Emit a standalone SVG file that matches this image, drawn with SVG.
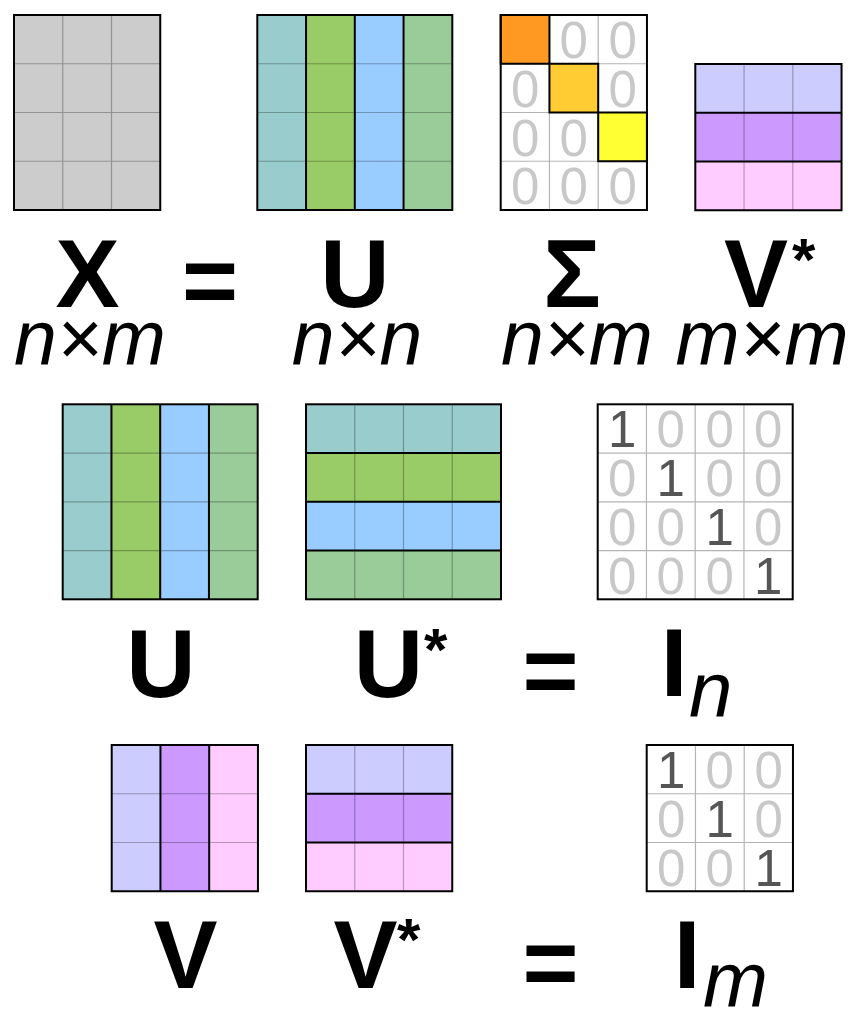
<svg xmlns="http://www.w3.org/2000/svg" width="864" height="1014" viewBox="0 0 864 1014">
<style>
.bg{fill:#fff}
.thin{fill:none;stroke:#000;stroke-opacity:0.28;stroke-width:1.2}
.thinw{fill:none;stroke:#b4b4b4;stroke-width:1.2}
.sep{fill:none;stroke:#000;stroke-width:2}
.border{fill:none;stroke:#000;stroke-width:2}
.diag{stroke:#000;stroke-width:2}
.z{font-family:"Liberation Sans",Arial,sans-serif;font-size:51px;fill:#c8c8c8;text-anchor:middle}
.o{fill:#555555}
.lb{font-family:"Liberation Sans",Arial,sans-serif;font-weight:bold;font-size:96px;fill:#000;text-anchor:middle}
.ast{font-family:"Liberation Sans",Arial,sans-serif;font-weight:bold;font-size:60px;fill:#000}
.it{font-family:"Liberation Sans",Arial,sans-serif;font-style:italic;font-size:77px;fill:#000;text-anchor:middle}
.its{font-family:"Liberation Sans",Arial,sans-serif;font-style:italic;font-size:78px;fill:#000}
</style>
<rect class="bg" x="0" y="0" width="864" height="1014"/>

<!-- Top row -->
<g id="matrix-X">
<rect x="14" y="15" width="146.25" height="195" fill="#cccccc"/>
<path class="thin" d="M62.75 15V210M111.5 15V210M14 63.75H160.25M14 112.5H160.25M14 161.25H160.25"/>
<rect class="border" x="14" y="15" width="146.25" height="195"/>
</g>

<g id="matrix-U-top">
<rect x="257.3" y="15" width="48.75" height="195" fill="#99cccc"/>
<rect x="306.05" y="15" width="48.75" height="195" fill="#99cc66"/>
<rect x="354.8" y="15" width="48.75" height="195" fill="#99ccff"/>
<rect x="403.55" y="15" width="48.75" height="195" fill="#99cc99"/>
<path class="thin" d="M257.3 63.75H452.3M257.3 112.5H452.3M257.3 161.25H452.3"/>
<path class="sep" d="M306.05 15V210M354.8 15V210M403.55 15V210"/>
<rect class="border" x="257.3" y="15" width="195" height="195"/>
</g>

<g id="matrix-Sigma">
<rect x="500.7" y="15" width="146.25" height="195" fill="#ffffff"/>
<path class="thinw" d="M549.45 15V210M598.2 15V210M500.7 63.75H646.95M500.7 112.5H646.95M500.7 161.25H646.95"/>
<rect class="diag" x="500.7" y="15" width="48.75" height="48.75" fill="#ff9922"/>
<rect class="diag" x="549.45" y="63.75" width="48.75" height="48.75" fill="#ffcc33"/>
<rect class="diag" x="598.2" y="112.5" width="48.75" height="48.75" fill="#ffff33"/>
<text class="z" x="573.8" y="58">0</text><text class="z" x="622.6" y="58">0</text>
<text class="z" x="525.1" y="106.75">0</text><text class="z" x="622.6" y="106.75">0</text>
<text class="z" x="525.1" y="155.5">0</text><text class="z" x="573.8" y="155.5">0</text>
<text class="z" x="525.1" y="204.25">0</text><text class="z" x="573.8" y="204.25">0</text><text class="z" x="622.6" y="204.25">0</text>
<rect class="border" x="500.7" y="15" width="146.25" height="195"/>
</g>

<g id="matrix-Vstar-top">
<rect x="695.3" y="64" width="146.25" height="48.75" fill="#ccccff"/>
<rect x="695.3" y="112.75" width="146.25" height="48.75" fill="#cc99ff"/>
<rect x="695.3" y="161.5" width="146.25" height="48.75" fill="#ffccff"/>
<path class="thin" d="M744.05 64V210.25M792.8 64V210.25"/>
<path class="sep" d="M695.3 112.75H841.55M695.3 161.5H841.55"/>
<rect class="border" x="695.3" y="64" width="146.25" height="146.25"/>
</g>

<g id="labels-top">
<text class="lb" x="87.5" y="307">X</text>
<text class="lb" x="210" y="314">=</text>
<text class="lb" x="355" y="307">U</text>
<text class="lb" x="572" y="307">Σ</text>
<text class="lb" x="756" y="307">V</text>
<text class="ast" x="792" y="280">*</text>
<text class="it" x="90" y="365">n×m</text>
<text class="it" x="357" y="365">n×n</text>
<text class="it" x="577" y="365">n×m</text>
<text class="it" x="762" y="365">m×m</text>
</g>

<!-- Middle row -->
<g id="matrix-U-mid">
<rect x="62.7" y="404.3" width="48.75" height="195" fill="#99cccc"/>
<rect x="111.45" y="404.3" width="48.75" height="195" fill="#99cc66"/>
<rect x="160.2" y="404.3" width="48.75" height="195" fill="#99ccff"/>
<rect x="208.95" y="404.3" width="48.75" height="195" fill="#99cc99"/>
<path class="thin" d="M62.7 453.05H257.7M62.7 501.8H257.7M62.7 550.55H257.7"/>
<path class="sep" d="M111.45 404.3V599.3M160.2 404.3V599.3M208.95 404.3V599.3"/>
<rect class="border" x="62.7" y="404.3" width="195" height="195"/>
</g>

<g id="matrix-Ustar-mid">
<rect x="306" y="404.3" width="195" height="48.75" fill="#99cccc"/>
<rect x="306" y="453.05" width="195" height="48.75" fill="#99cc66"/>
<rect x="306" y="501.8" width="195" height="48.75" fill="#99ccff"/>
<rect x="306" y="550.55" width="195" height="48.75" fill="#99cc99"/>
<path class="thin" d="M354.75 404.3V599.3M403.5 404.3V599.3M452.25 404.3V599.3"/>
<path class="sep" d="M306 453.05H501M306 501.8H501M306 550.55H501"/>
<rect class="border" x="306" y="404.3" width="195" height="195"/>
</g>

<g id="matrix-In">
<rect x="597.7" y="404.3" width="195" height="195" fill="#ffffff"/>
<path class="thinw" d="M646.45 404.3V599.3M695.2 404.3V599.3M743.95 404.3V599.3M597.7 453.05H792.7M597.7 501.8H792.7M597.7 550.55H792.7"/>
<text class="z o" x="622.1" y="447.3">1</text><text class="z" x="670.8" y="447.3">0</text><text class="z" x="719.6" y="447.3">0</text><text class="z" x="768.3" y="447.3">0</text>
<text class="z" x="622.1" y="496.05">0</text><text class="z o" x="670.8" y="496.05">1</text><text class="z" x="719.6" y="496.05">0</text><text class="z" x="768.3" y="496.05">0</text>
<text class="z" x="622.1" y="544.8">0</text><text class="z" x="670.8" y="544.8">0</text><text class="z o" x="719.6" y="544.8">1</text><text class="z" x="768.3" y="544.8">0</text>
<text class="z" x="622.1" y="593.55">0</text><text class="z" x="670.8" y="593.55">0</text><text class="z" x="719.6" y="593.55">0</text><text class="z o" x="768.3" y="593.55">1</text>
<rect class="border" x="597.7" y="404.3" width="195" height="195"/>
</g>

<g id="labels-mid">
<text class="lb" x="161" y="697">U</text>
<text class="lb" x="388.5" y="697">U</text>
<text class="ast" x="424" y="670">*</text>
<text class="lb" x="550.5" y="704">=</text>
<text class="lb" x="674" y="696">I</text>
<text class="its" x="689" y="717">n</text>
</g>

<!-- Bottom row -->
<g id="matrix-V-bot">
<rect x="111.7" y="745" width="48.75" height="146.25" fill="#ccccff"/>
<rect x="160.45" y="745" width="48.75" height="146.25" fill="#cc99ff"/>
<rect x="209.2" y="745" width="48.75" height="146.25" fill="#ffccff"/>
<path class="thin" d="M111.7 793.75H257.95M111.7 842.5H257.95"/>
<path class="sep" d="M160.45 745V891.25M209.2 745V891.25"/>
<rect class="border" x="111.7" y="745" width="146.25" height="146.25"/>
</g>

<g id="matrix-Vstar-bot">
<rect x="306" y="745" width="146.25" height="48.75" fill="#ccccff"/>
<rect x="306" y="793.75" width="146.25" height="48.75" fill="#cc99ff"/>
<rect x="306" y="842.5" width="146.25" height="48.75" fill="#ffccff"/>
<path class="thin" d="M354.75 745V891.25M403.5 745V891.25"/>
<path class="sep" d="M306 793.75H452.25M306 842.5H452.25"/>
<rect class="border" x="306" y="745" width="146.25" height="146.25"/>
</g>

<g id="matrix-Im">
<rect x="646.7" y="745" width="146.25" height="146.25" fill="#ffffff"/>
<path class="thinw" d="M695.45 745V891.25M744.2 745V891.25M646.7 793.75H792.95M646.7 842.5H792.95"/>
<text class="z o" x="671.1" y="788">1</text><text class="z" x="719.8" y="788">0</text><text class="z" x="768.6" y="788">0</text>
<text class="z" x="671.1" y="836.75">0</text><text class="z o" x="719.8" y="836.75">1</text><text class="z" x="768.6" y="836.75">0</text>
<text class="z" x="671.1" y="885.5">0</text><text class="z" x="719.8" y="885.5">0</text><text class="z o" x="768.6" y="885.5">1</text>
<rect class="border" x="646.7" y="745" width="146.25" height="146.25"/>
</g>

<g id="labels-bot">
<text class="lb" x="185.5" y="988">V</text>
<text class="lb" x="365.5" y="988">V</text>
<text class="ast" x="397" y="960">*</text>
<text class="lb" x="550.5" y="996">=</text>
<text class="lb" x="687" y="988">I</text>
<text class="its" x="703" y="1007">m</text>
</g>
</svg>
